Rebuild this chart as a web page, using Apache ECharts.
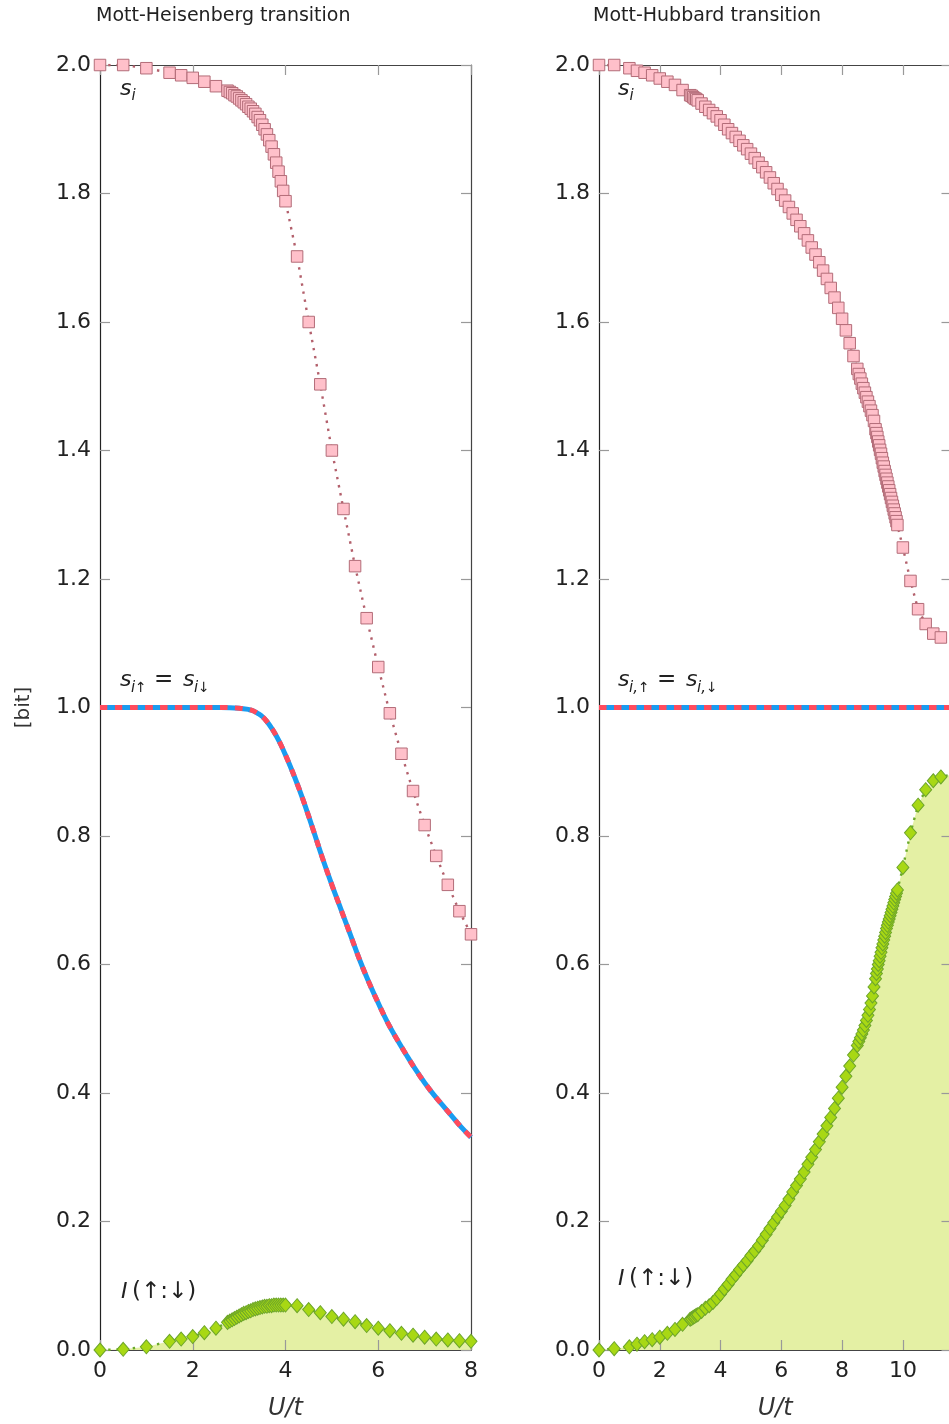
<!DOCTYPE html>
<html><head><meta charset="utf-8">
<script src="https://cdn.jsdelivr.net/npm/echarts@6/dist/echarts.min.js"></script>
<style>html,body{margin:0;padding:0;background:#fff}#c{width:949px;height:1424px}</style>
</head><body><div id="c"></div>
<script>
// ---------------- data ----------------
// Left panel: Mott-Heisenberg transition
const UL = [0, 0.5, 1.0, 1.5, 1.75, 2.0, 2.25, 2.5,
  2.75, 2.80, 2.85, 2.90, 2.95, 3.00, 3.05, 3.10, 3.15, 3.20, 3.25, 3.30, 3.35, 3.40, 3.45, 3.50, 3.55, 3.60, 3.65, 3.70, 3.75, 3.80, 3.85, 3.90, 3.95, 4.00,
  4.25, 4.5, 4.75, 5.0, 5.25, 5.5, 5.75, 6.0, 6.25, 6.5, 6.75, 7.0, 7.25, 7.5, 7.75, 8.0];
const siL = [2.000, 2.000, 1.995, 1.988, 1.984, 1.980, 1.974, 1.967,
  1.960, 1.958, 1.956, 1.953, 1.951, 1.948, 1.945, 1.942, 1.939, 1.935, 1.932, 1.928, 1.924, 1.919, 1.914, 1.907, 1.900, 1.892, 1.883, 1.873, 1.861, 1.848, 1.834, 1.819, 1.804, 1.788,
  1.702, 1.600, 1.503, 1.400, 1.309, 1.220, 1.139, 1.063, 0.991, 0.928, 0.870, 0.817, 0.769, 0.724, 0.683, 0.647];
const IL = [0.000, 0.001, 0.005, 0.0135, 0.017, 0.021, 0.027, 0.034,
  0.043, 0.045, 0.047, 0.049, 0.051, 0.053, 0.055, 0.057, 0.058, 0.060, 0.061, 0.063, 0.064, 0.065, 0.066, 0.067, 0.068, 0.068, 0.069, 0.069, 0.070, 0.070, 0.070, 0.070, 0.070, 0.070,
  0.069, 0.063, 0.058, 0.052, 0.048, 0.044, 0.038, 0.034, 0.030, 0.026, 0.023, 0.020, 0.017, 0.0156, 0.0145, 0.0135];
const spinUL = [0, 1, 2, 2.6, 3.0, 3.2, 3.3, 3.4, 3.5, 3.6, 3.7, 3.8, 3.9, 4.0, 4.1, 4.2, 4.3, 4.4, 4.6, 4.8, 5.0, 5.2, 5.4, 5.6, 5.8, 6.0, 6.2, 6.4, 6.6, 6.8, 7.0, 7.2, 7.4, 7.6, 7.8, 8.0];
const spinL = [1.0, 1.0, 1.0, 1.0, 0.999, 0.997, 0.995, 0.991, 0.986, 0.978, 0.968, 0.956, 0.942, 0.926, 0.909, 0.891, 0.872, 0.852, 0.809, 0.765, 0.724, 0.685, 0.646, 0.607, 0.572, 0.540, 0.510, 0.484, 0.460, 0.437, 0.416, 0.397, 0.380, 0.363, 0.346, 0.331];

// Right panel: Mott-Hubbard transition
const UR = [0, 0.5, 1, 1.25, 1.5, 1.75, 2, 2.25, 2.5, 2.75,
  3, 3.05, 3.1, 3.15, 3.2,
  3.25, 3.375, 3.5, 3.625, 3.75, 3.875, 4, 4.125, 4.25, 4.375, 4.5, 4.625, 4.75, 4.875, 5, 5.125, 5.25, 5.375, 5.5, 5.625, 5.75, 5.875,
  6, 6.125, 6.25, 6.375, 6.5, 6.625, 6.75, 6.875, 7, 7.125, 7.25, 7.375, 7.5, 7.625, 7.75, 7.875, 8, 8.125, 8.25, 8.375, 8.5,
  8.55, 8.6, 8.65, 8.7, 8.75, 8.8, 8.85, 8.9, 8.95, 9, 9.05,
  9.1, 9.13, 9.16, 9.19, 9.22, 9.25, 9.28, 9.31, 9.34, 9.37, 9.4, 9.43, 9.46, 9.49, 9.52, 9.55, 9.58, 9.61, 9.64, 9.67, 9.7, 9.73, 9.76, 9.79, 9.82,
  10, 10.25, 10.5, 10.75, 11, 11.25, 11.75];
const siR = [2.000, 2.000, 1.995, 1.991, 1.988, 1.984, 1.979, 1.974, 1.969, 1.961,
  1.953, 1.952, 1.950, 1.948, 1.947,
  1.945, 1.940, 1.935, 1.930, 1.925, 1.920, 1.914, 1.907, 1.900, 1.894, 1.888, 1.882, 1.875, 1.869, 1.862, 1.855, 1.848, 1.841, 1.833, 1.825, 1.816, 1.807,
  1.798, 1.789, 1.779, 1.769, 1.759, 1.749, 1.738, 1.727, 1.716, 1.705, 1.693, 1.680, 1.667, 1.653, 1.638, 1.622, 1.605, 1.587, 1.567, 1.547, 1.527,
  1.519, 1.512, 1.504, 1.497, 1.490, 1.483, 1.476, 1.469, 1.462, 1.455, 1.446,
  1.433, 1.427, 1.421, 1.414, 1.408, 1.401, 1.395, 1.388, 1.381, 1.375, 1.368, 1.362, 1.356, 1.350, 1.344, 1.338, 1.332, 1.326, 1.320, 1.314, 1.308, 1.302, 1.296, 1.290, 1.284,
  1.249, 1.197, 1.153, 1.130, 1.115, 1.109, 1.103];
const IR = [0.000, 0.002, 0.005, 0.009, 0.013, 0.016, 0.020, 0.026, 0.032, 0.040,
  0.048, 0.049, 0.051, 0.052, 0.054,
  0.055, 0.060, 0.065, 0.069, 0.074, 0.080, 0.087, 0.095, 0.102, 0.110, 0.117, 0.125, 0.132, 0.139, 0.147, 0.154, 0.162, 0.171, 0.180, 0.189, 0.198, 0.207,
  0.216, 0.225, 0.235, 0.246, 0.256, 0.266, 0.277, 0.289, 0.300, 0.312, 0.324, 0.336, 0.349, 0.362, 0.376, 0.392, 0.409, 0.426, 0.442, 0.459, 0.474,
  0.480, 0.486, 0.492, 0.498, 0.505, 0.513, 0.521, 0.530, 0.540, 0.551, 0.565,
  0.578, 0.586, 0.593, 0.600, 0.606, 0.613, 0.619, 0.626, 0.632, 0.638, 0.644, 0.650, 0.656, 0.661, 0.666, 0.671, 0.676, 0.681, 0.686, 0.691, 0.696, 0.701, 0.706, 0.711, 0.716,
  0.751, 0.805, 0.848, 0.872, 0.886, 0.892, 0.897];
const spinUR = [0, 12];
const spinR = [1.0, 1.0];

const xTickLabels = ['0', '2', '4', '6', '8', '10', '12'];
const yTickLabels = ['0.0', '0.2', '0.4', '0.6', '0.8', '1.0', '1.2', '1.4', '1.6', '1.8', '2.0'];
const titles = ['Mott-Heisenberg transition', 'Mott-Hubbard transition'];

// ---------------- chart ----------------
const FONT = 'DejaVu Sans';
const pairs = (xs, ys) => xs.map((x, i) => [x, ys[i]]);

function xAxes(gi, xmax, showMax) {
  const base = {
    gridIndex: gi, type: 'value', min: 0, max: xmax, interval: 2, z: 3,
    splitLine: {show: false},
    axisTick: {show: true, inside: true, length: 10, lineStyle: {color: '#999', width: 1.2}}
  };
  return [
    Object.assign({}, base, {
      position: 'bottom',
      axisLine: {show: true, onZero: false, lineStyle: {color: '#444', width: 1.2}},
      axisLabel: {show: true, margin: 10, fontSize: 22, fontFamily: FONT, color: '#222',
        showMaxLabel: showMax,
        formatter: v => xTickLabels[Math.round(v / 2)]},
      name: 'U/t', nameLocation: 'middle', nameGap: 47,
      nameTextStyle: {fontSize: 24, fontFamily: FONT, fontStyle: 'italic', color: '#333'}
    }),
    Object.assign({}, base, {
      position: 'top',
      axisLine: {show: true, onZero: false, lineStyle: {color: '#444', width: 1.2}},
      axisLabel: {show: false}
    })
  ];
}
function yAxes(gi, withName) {
  const base = {
    gridIndex: gi, type: 'value', min: 0, max: 2, interval: 0.2, z: 3,
    splitLine: {show: false},
    axisTick: {show: true, inside: true, length: 10, lineStyle: {color: '#999', width: 1.2}}
  };
  const left = Object.assign({}, base, {
    position: 'left',
    axisLine: {show: true, onZero: false, lineStyle: {color: '#222', width: 1.2}},
    axisLabel: {show: true, margin: 9, fontSize: 22, fontFamily: FONT, color: '#222',
      formatter: v => yTickLabels[Math.round(v / 0.2)]}
  });
  if (withName) {
    Object.assign(left, {
      name: '[bit]', nameLocation: 'middle', nameGap: 66, nameRotate: 90,
      nameTextStyle: {fontSize: 20, fontFamily: FONT, color: '#333'}
    });
  }
  return [left, Object.assign({}, base, {
    position: 'right',
    axisLine: {show: true, onZero: false, lineStyle: {color: '#444', width: 1.2}},
    axisLabel: {show: false}
  })];
}

function panelSeries(xi, yi, U, si, I, spinU, spin, smoothSpin) {
  const common = {type: 'line', xAxisIndex: xi, yAxisIndex: yi, animation: false, silent: true,
    emphasis: {disabled: true}, clip: true};
  return [
    Object.assign({}, common, {
      data: pairs(U, I), showSymbol: false, z: 1,
      lineStyle: {width: 0, opacity: 0},
      areaStyle: {color: '#e4f0a4', opacity: 1, origin: 'start'}
    }),
    Object.assign({}, common, {
      data: pairs(spinU, spin), showSymbol: false, z: 4, smooth: smoothSpin,
      lineStyle: {color: '#1a9cf0', width: 5}
    }),
    Object.assign({}, common, {
      data: pairs(spinU, spin), showSymbol: false, z: 4, smooth: smoothSpin,
      lineStyle: {color: '#ff4b5c', width: 5, type: [7.5, 7.5], cap: 'butt'}
    }),
    Object.assign({}, common, {
      data: pairs(U, I), z: 5, showAllSymbol: true,
      symbol: 'diamond', symbolSize: [12, 14],
      itemStyle: {color: '#a8d814', borderColor: '#6ca52a', borderWidth: 1},
      lineStyle: {color: '#6aaa2a', width: 2.4, type: [2.4, 5.8], cap: 'butt'}
    }),
    Object.assign({}, common, {
      data: pairs(U, si), z: 6, showAllSymbol: true,
      symbol: 'rect', symbolSize: 11.5,
      itemStyle: {color: '#ffc0ca', borderColor: '#b36c78', borderWidth: 1},
      lineStyle: {color: '#b3606c', width: 2.4, type: [2.4, 5.8], cap: 'butt'}
    })
  ];
}

// annotation pieces: text, left x, baseline y, size, italic
const notes = [
  ['s', 120, 97, 22, 1], ['i', 131.5, 101, 15, 1],
  ['s', 120, 688, 22, 1], ['i', 131, 693, 15, 1], ['\u2191', 135, 693, 14, 0],
  ['=', 154, 688, 23, 0],
  ['s', 183, 688, 22, 1], ['i', 194, 693, 15, 1], ['\u2193', 198, 693, 14, 0],
  ['I', 121, 1300, 22, 1], ['(\u2191:\u2193)', 132, 1300, 23, 0],
  ['s', 618, 97, 22, 1], ['i', 629.5, 101, 15, 1],
  ['s', 618, 688, 22, 1], ['i,', 629, 693, 15, 1], ['\u2191', 638, 693, 14, 0],
  ['=', 657, 688, 23, 0],
  ['s', 686, 688, 22, 1], ['i,', 697, 693, 15, 1], ['\u2193', 706, 693, 14, 0],
  ['I', 618, 1287, 22, 1], ['(\u2191:\u2193)', 629, 1287, 23, 0]
];

const graphic = notes.map(n => ({
  type: 'text', x: n[1], y: n[2] - 0.35 * n[3], silent: true, z: 10,
  style: {text: n[0], fontSize: n[3], fontFamily: FONT, fontStyle: n[4] ? 'italic' : 'normal',
    fill: '#222', align: 'left', verticalAlign: 'middle'}
})).concat([
  {type: 'text', x: 96, y: 16, silent: true,
    style: {text: titles[0], fontSize: 19, fontFamily: FONT, fill: '#222', align: 'left', verticalAlign: 'middle'}},
  {type: 'text', x: 593, y: 16, silent: true,
    style: {text: titles[1], fontSize: 19, fontFamily: FONT, fill: '#222', align: 'left', verticalAlign: 'middle'}}
]);

const chart = echarts.init(document.getElementById('c'), null, {renderer: 'canvas'});
chart.setOption({
  animation: false,
  backgroundColor: '#fff',
  grid: [
    {left: 100, top: 65, width: 371, height: 1285, containLabel: false, outerBoundsMode: 'none'},
    {left: 599, top: 65, width: 352.5, height: 1285, containLabel: false, outerBoundsMode: 'none'}
  ],
  xAxis: xAxes(0, 8, true).concat(xAxes(1, 11.6, false)),
  yAxis: yAxes(0, true).concat(yAxes(1, false)),
  series: panelSeries(0, 0, UL, siL, IL, spinUL, spinL, 0.4)
    .concat(panelSeries(2, 2, UR, siR, IR, spinUR, spinR, false)),
  graphic: graphic
});
</script></body></html>
